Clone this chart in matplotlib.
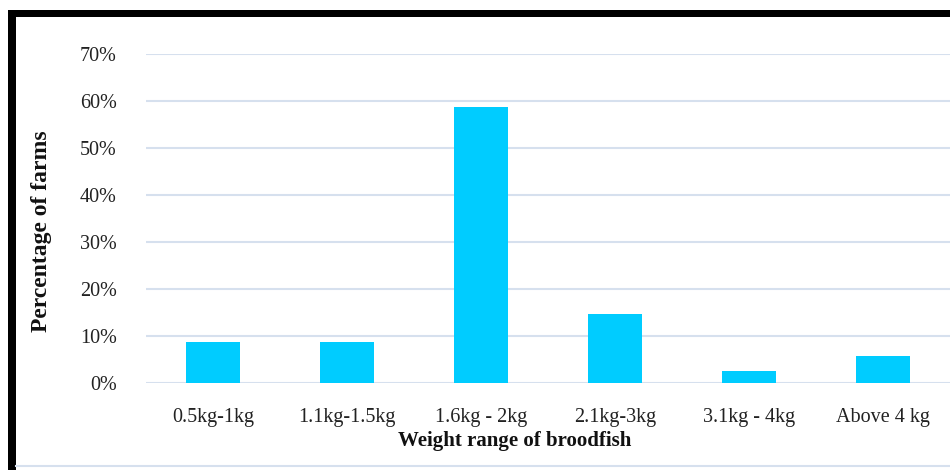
import matplotlib
matplotlib.use("Agg")
import matplotlib.pyplot as plt
from matplotlib.patches import Rectangle
from matplotlib.lines import Line2D
from matplotlib.ticker import FuncFormatter

categories = ["0.5kg-1kg", "1.1kg-1.5kg", "1.6kg - 2kg", "2.1kg-3kg", "3.1kg - 4kg", "Above 4 kg"]
values = [0.087, 0.087, 0.587, 0.146, 0.026, 0.057]
yticks = [0.0, 0.1, 0.2, 0.3, 0.4, 0.5, 0.6, 0.7]

W, H = 950, 470
fig = plt.figure(figsize=(9.5, 4.7), dpi=100)
plt.rcParams['font.family'] = ['Liberation Serif', 'DejaVu Serif']

ax = fig.add_axes([146 / W, 1 - 383 / H, (950 - 146) / W, (383 - 54) / H])
x = list(range(len(categories)))
ax.bar(x, values, width=0.4, color="#00CCFF", zorder=3)
ax.set_xlim(-0.5, len(categories) - 0.5)
ax.set_ylim(0, 0.7)
ax.set_yticks(yticks)
ax.yaxis.set_major_formatter(FuncFormatter(lambda v, p: f"{v*100:.0f}%"))
ax.set_xticks(x)
ax.set_xticklabels(categories)
for s in ax.spines.values():
    s.set_visible(False)
ax.grid(axis="y", color="#D6E0EE", linewidth=1.5, zorder=0)
ax.set_axisbelow(True)
ax.tick_params(axis="both", length=0, labelsize=14.5, colors="#222222")
ax.tick_params(axis="y", pad=21)
ax.tick_params(axis="x", pad=18)

fig.text(515 / W, 1 - 441 / H, "Weight range of broodfish", ha="center", va="center",
         fontsize=15, fontweight="bold", color="#111111")
fig.text(42 / W, 1 - 231 / H, "Percentage of farms", ha="center", va="center",
         rotation=90, fontsize=17, fontweight="bold", color="#111111")

# black frame (top and left) and light bottom line
fig.add_artist(Rectangle((8 / W, 1 - 17 / H), (950 - 8) / W, 7 / H,
                         transform=fig.transFigure, color="black", lw=0))
fig.add_artist(Rectangle((8 / W, 0), 8 / W, 1 - 10 / H,
                         transform=fig.transFigure, color="black", lw=0))
fig.add_artist(Line2D([16 / W, 1], [1 - 466 / H, 1 - 466 / H],
                      transform=fig.transFigure, color="#D6E0EE", lw=1.5))

fig.savefig("out.png", dpi=100)
